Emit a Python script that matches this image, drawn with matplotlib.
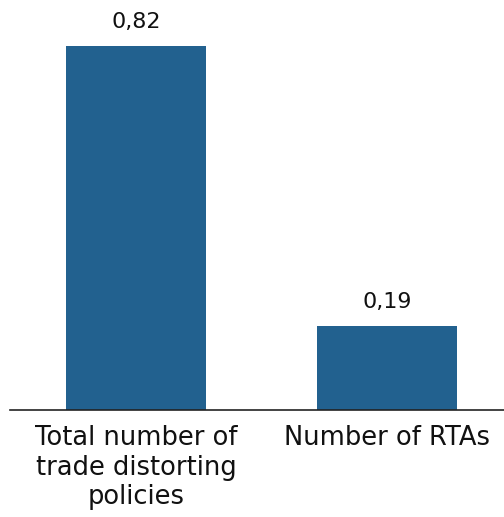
import matplotlib
matplotlib.use("Agg")
import matplotlib.pyplot as plt

categories = ["Total number of\ntrade distorting\npolicies", "Number of RTAs"]
values = [0.82, 0.19]
value_labels = ["0,82", "0,19"]

plt.rcParams['font.family'] = ['DejaVu Sans']

fig = plt.figure(figsize=(5.04, 5.17), dpi=100)
ax = fig.add_axes([10/504, 107/517, 494/504, 400/517])
x = list(range(len(categories)))
bars = ax.bar(x, values, width=0.554, color="#22618F")
for xi, v, lab in zip(x, values, value_labels):
    ax.text(xi, v + 0.031, lab, ha="center", va="bottom", fontsize=16, color="#111111")
ax.set_xlim(-0.502, 1.466)
ax.set_ylim(0, 0.9)
ax.set_xticks(x)
ax.set_xticklabels(categories, fontsize=18.5, linespacing=1.17, color="#111111")
ax.tick_params(axis="x", length=0, pad=11)
ax.set_yticks([])
for s in ["top", "left", "right"]:
    ax.spines[s].set_visible(False)
ax.spines["bottom"].set_color("#222222")
ax.spines["bottom"].set_linewidth(1.2)
fig.savefig("out.png", dpi=100)
